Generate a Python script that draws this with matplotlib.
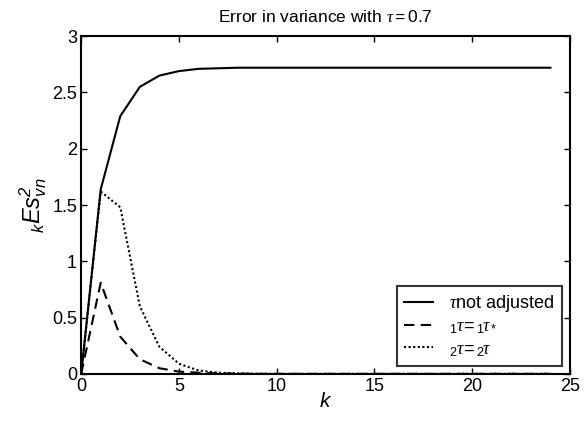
#!/usr/bin/env python3
"""Error in variance against k for tau = 0.7"""

import matplotlib
matplotlib.use('Agg')
import matplotlib.pyplot as plt

plt.rcParams['font.family'] = ['Liberation Sans', 'DejaVu Sans']
plt.rcParams['mathtext.fontset'] = 'custom'
plt.rcParams['mathtext.rm'] = 'Liberation Sans'
plt.rcParams['mathtext.it'] = 'Liberation Serif:italic'
plt.rcParams['mathtext.sf'] = 'Liberation Sans:italic'

# --------------------------------------------------
k = list(range(25))

not_adjusted = [0.0, 1.64, 2.29, 2.55, 2.65, 2.69, 2.71, 2.715, 2.72,
                2.72, 2.72, 2.72, 2.72, 2.72, 2.72, 2.72, 2.72, 2.72,
                2.72, 2.72, 2.72, 2.72, 2.72, 2.72, 2.72]

tau1_star = [0.0, 0.81, 0.33, 0.13, 0.05, 0.02, 0.01, 0.004, 0.002,
             0.0, 0.0, 0.0, 0.0, 0.0, 0.0, 0.0, 0.0, 0.0,
             0.0, 0.0, 0.0, 0.0, 0.0, 0.0, 0.0]

tau2 = [0.0, 1.62, 1.48, 0.60, 0.24, 0.09, 0.03, 0.01, 0.004,
        0.001, 0.0, 0.0, 0.0, 0.0, 0.0, 0.0, 0.0, 0.0,
        0.0, 0.0, 0.0, 0.0, 0.0, 0.0, 0.0]

labels = [r'$\tau$not adjusted',
          r'$_1\tau\!=_1\!\tau_*$',
          r'$_2\tau\!=_2\!\tau$']


def main():
    fig = plt.figure(figsize=(5.84, 4.21), dpi=100)
    ax = fig.add_axes([0.139, 0.112, 0.837, 0.802])

    ax.plot(k, not_adjusted, 'k-', lw=1.5, label=labels[0])
    ax.plot(k, tau1_star, 'k', ls=(0, (5, 3)), lw=1.5, label=labels[1])
    ax.plot(k, tau2, 'k', ls=(0, (1, 1.2)), lw=1.5, label=labels[2])

    ax.set_xlim(0, 25)
    ax.set_ylim(0, 3)
    ax.set_xticks([0, 5, 10, 15, 20, 25])
    ax.set_yticks([0, 0.5, 1, 1.5, 2, 2.5, 3])
    ax.set_yticklabels(['0', '0.5', '1', '1.5', '2', '2.5', '3'])
    ax.tick_params(direction='in', top=True, right=True, length=4,
                   width=1, labelsize=13, pad=3)
    for sp in ax.spines.values():
        sp.set_linewidth(1.5)

    ax.set_xlabel(r'$\mathsf{k}$', fontsize=15, labelpad=-2)
    ax.set_ylabel(r'$\mathsf{_k Es^2_{vn}}$', fontsize=17, labelpad=2)
    ax.set_title(r'Error in variance with $\tau = 0.7$', fontsize=12.5,
                 pad=10)

    leg = ax.legend(loc='lower right', fontsize=13, frameon=True,
                    fancybox=False, edgecolor='black', handlelength=1.6,
                    borderaxespad=0.45, labelspacing=0.25,
                    borderpad=0.4, handletextpad=0.9)
    leg.get_frame().set_linewidth(1.5)

    fig.savefig('out.png', dpi=100)


# --------------------------------------------------
if __name__ == '__main__':
    main()
